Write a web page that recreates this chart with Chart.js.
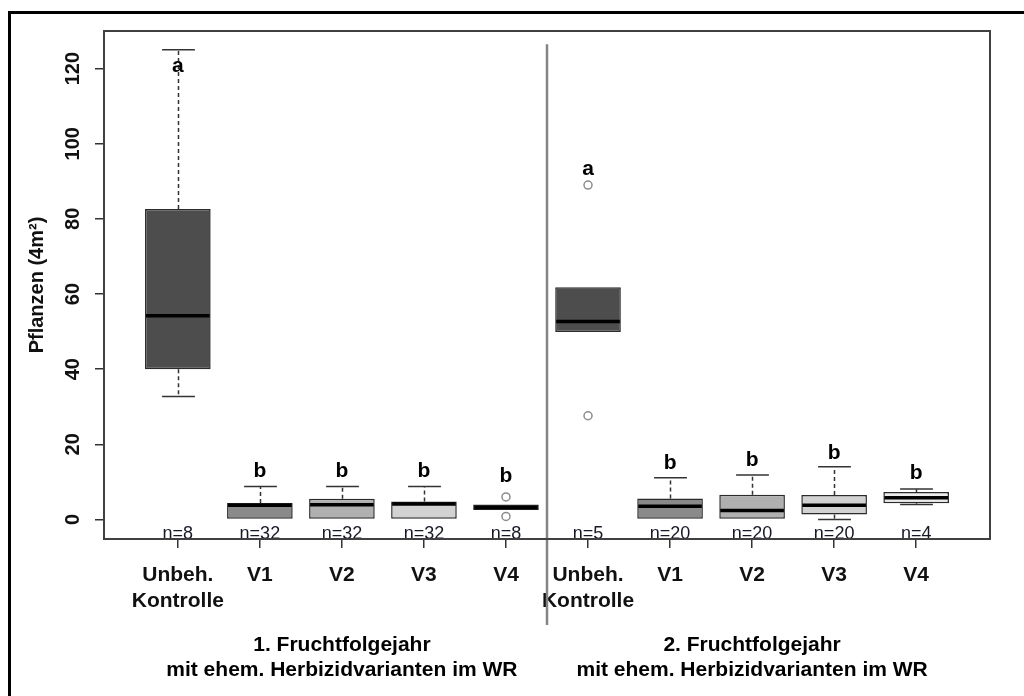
<!DOCTYPE html>
<html>
<head>
  <title>Pflanzen Boxplot</title>
  <script src="https://cdn.jsdelivr.net/npm/chart.js"></script>
  <style>
    body { margin: 0; background: #fff; }
    #wrap { width: 1024px; height: 696px; }
  </style>
</head>
<body>
  <div id="wrap"><canvas id="chart" width="1024" height="696"></canvas></div>

  <script>
    // Category positions and labels
    const positions = [1, 2, 3, 4, 5, 6, 7, 8, 9, 10];
    const categories = [['Unbeh.', 'Kontrolle'], 'V1', 'V2', 'V3', 'V4', ['Unbeh.', 'Kontrolle'], 'V1', 'V2', 'V3', 'V4'];
    const sampleSizes = ['n=8', 'n=32', 'n=32', 'n=32', 'n=8', 'n=5', 'n=20', 'n=20', 'n=20', 'n=4'];

    // Box statistics (plants per 4 m²)
    const whiskerLow  = [32.7, 0,   0,   0,   2.5, 49.9, 0,    0,    0,    4.0];
    const q1          = [40.0, 0,   0,   0,   2.5, 49.9, 0,    0,    1.3,  4.3];
    const median      = [54.2, 3.8, 3.9, 4.1, 3.2, 52.7, 3.5,  2.4,  3.8,  5.8];
    const q3          = [82.6, 4.4, 5.5, 4.8, 4.0, 61.8, 5.6,  6.6,  6.5,  7.3];
    const whiskerHigh = [125,  8.8, 8.8, 8.8, 4.0, 61.8, 11.1, 11.8, 14.0, 8.1];

    // Outliers
    const outlierX = [5, 5, 6, 6];
    const outlierY = [6.0, 0.8, 89.0, 27.6];

    // Significance letters
    const letters = ['a', 'b', 'b', 'b', 'b', 'a', 'b', 'b', 'b', 'b'];
    const letterY = [120.7, 12.8, 12.8, 12.8, 11.5, 93.2, 15.1, 15.7, 17.7, 12.2];

    // Groups
    const groupCenters = [3, 8];
    const groupLabels = [
      ['1. Fruchtfolgejahr', 'mit ehem. Herbizidvarianten im WR'],
      ['2. Fruchtfolgejahr', 'mit ehem. Herbizidvarianten im WR']
    ];
    const separatorX = 5.5;
    const yTicks = [0, 20, 40, 60, 80, 100, 120];

    const boxColors = ['#4d4d4d', '#8a8a8a', '#b0b0b0', '#d2d2d2', '#ebebeb',
                       '#4d4d4d', '#8a8a8a', '#b0b0b0', '#d2d2d2', '#ebebeb'];
    const FONT = "'Liberation Sans', Arial, sans-serif";

    // Draws frame, whiskers, medians and the text annotations
    const boxExtras = {
      id: 'boxExtras',
      beforeDraw(chart) {
        const ctx = chart.ctx;
        ctx.save();
        ctx.fillStyle = '#fff';
        ctx.fillRect(0, 0, chart.width, chart.height);
        ctx.strokeStyle = '#000';
        ctx.lineWidth = 3;
        ctx.beginPath();
        ctx.moveTo(9.5, chart.height);
        ctx.lineTo(9.5, 12.5);
        ctx.lineTo(chart.width, 12.5);
        ctx.stroke();
        ctx.restore();
      },
      beforeDatasetsDraw(chart) {
        const ctx = chart.ctx;
        const xs = chart.scales.x, ys = chart.scales.y;
        ctx.save();
        ctx.strokeStyle = '#333';
        ctx.lineWidth = 1.5;
        positions.forEach((p, i) => {
          const x = Math.round(xs.getPixelForValue(p)) + 0.5;
          const half = xs.getPixelForValue(p + 0.2) - xs.getPixelForValue(p);
          const pairs = [[q3[i], whiskerHigh[i]], [q1[i], whiskerLow[i]]];
          pairs.forEach(([from, to]) => {
            if (from === to) return;
            const y1 = ys.getPixelForValue(from), y2 = ys.getPixelForValue(to);
            ctx.setLineDash([4, 3]);
            ctx.beginPath();
            ctx.moveTo(x, y1);
            ctx.lineTo(x, y2);
            ctx.stroke();
            ctx.setLineDash([]);
            ctx.beginPath();
            ctx.moveTo(x - half, y2);
            ctx.lineTo(x + half, y2);
            ctx.stroke();
          });
        });
        ctx.restore();
      },
      afterDatasetsDraw(chart) {
        const ctx = chart.ctx;
        const xs = chart.scales.x, ys = chart.scales.y;
        const area = chart.chartArea;
        ctx.save();

        // medians
        ctx.strokeStyle = '#000';
        ctx.lineWidth = 3.5;
        positions.forEach((p, i) => {
          const l = xs.getPixelForValue(p - 0.4), r = xs.getPixelForValue(p + 0.4);
          const y = ys.getPixelForValue(median[i]);
          ctx.beginPath();
          ctx.moveTo(l + 1, y);
          ctx.lineTo(r - 1, y);
          ctx.stroke();
        });

        // letters
        ctx.fillStyle = '#000';
        ctx.textAlign = 'center';
        ctx.textBaseline = 'middle';
        ctx.font = 'bold 21px ' + FONT;
        positions.forEach((p, i) => {
          ctx.fillText(letters[i], xs.getPixelForValue(p), ys.getPixelForValue(letterY[i]));
        });

        // sample sizes
        ctx.fillStyle = '#161826';
        ctx.font = '18px ' + FONT;
        ctx.textBaseline = 'alphabetic';
        positions.forEach((p, i) => {
          ctx.fillText(sampleSizes[i], xs.getPixelForValue(p), area.bottom);
        });

        // separator between the two years
        const sx = Math.round(xs.getPixelForValue(separatorX));
        ctx.strokeStyle = '#858585';
        ctx.lineWidth = 2.5;
        ctx.beginPath();
        ctx.moveTo(sx, ys.getPixelForValue(126.5));
        ctx.lineTo(sx, area.bottom + 86);
        ctx.stroke();

        // plot frame
        ctx.strokeStyle = '#404040';
        ctx.lineWidth = 2;
        ctx.strokeRect(area.left, area.top, area.right - area.left, area.bottom - area.top);

        // group labels
        ctx.fillStyle = '#000';
        ctx.font = 'bold 21px ' + FONT;
        groupCenters.forEach((g, k) => {
          const x = xs.getPixelForValue(g);
          ctx.fillText(groupLabels[k][0], x, area.bottom + 112);
          ctx.fillText(groupLabels[k][1], x, area.bottom + 137);
        });
        ctx.restore();
      }
    };

    const ctx = document.getElementById('chart').getContext('2d');
    new Chart(ctx, {
      type: 'bar',
      data: {
        datasets: [{
          type: 'scatter',
          data: outlierX.map((x, i) => ({ x: x, y: outlierY[i] })),
          pointStyle: 'circle',
          pointRadius: 4,
          pointBackgroundColor: '#fff',
          pointBorderColor: '#8c8c8c',
          pointBorderWidth: 1.5
        }, {
          type: 'bar',
          data: positions.map((p, i) => ({ x: p, y: [q1[i], q3[i]] })),
          backgroundColor: boxColors,
          borderColor: '#2b2b2b',
          borderWidth: 1.5,
          borderSkipped: false,
          barPercentage: 0.8,
          categoryPercentage: 1
        }]
      },
      options: {
        responsive: false,
        animation: false,
        layout: { padding: { top: 31, right: 34, left: 0, bottom: 0 } },
        plugins: { legend: { display: false }, tooltip: { enabled: false } },
        scales: {
          x: {
            type: 'linear',
            offset: false,
            min: 0.1,
            max: 10.9,
            afterBuildTicks: scale => { scale.ticks = positions.map(v => ({ value: v })); },
            afterFit: scale => { scale.height = 157; },
            grid: { offset: false, drawOnChartArea: false, tickLength: 9, color: '#333', lineWidth: 1.5 },
            border: { display: false },
            ticks: {
              autoSkip: false,
              maxRotation: 0,
              padding: 15,
              color: '#111',
              font: { family: FONT, size: 21, weight: 'bold' },
              callback: (value) => categories[positions.indexOf(value)]
            }
          },
          y: {
            min: -5.2,
            max: 130,
            afterBuildTicks: scale => { scale.ticks = yTicks.map(v => ({ value: v })); },
            afterFit: scale => { scale.width = 104; },
            grid: { drawOnChartArea: false, tickLength: 9, color: '#333', lineWidth: 1.5 },
            border: { display: false },
            title: {
              display: true,
              text: 'Pflanzen (4m²)',
              color: '#111',
              padding: { top: 25, bottom: 0 },
              font: { family: FONT, size: 20, weight: 'bold' }
            },
            ticks: {
              minRotation: 90,
              maxRotation: 90,
              crossAlign: 'center',
              padding: 5,
              color: '#111',
              font: { family: FONT, size: 20, weight: 'bold' }
            }
          }
        }
      },
      plugins: [boxExtras]
    });
  </script>
</body>
</html>
